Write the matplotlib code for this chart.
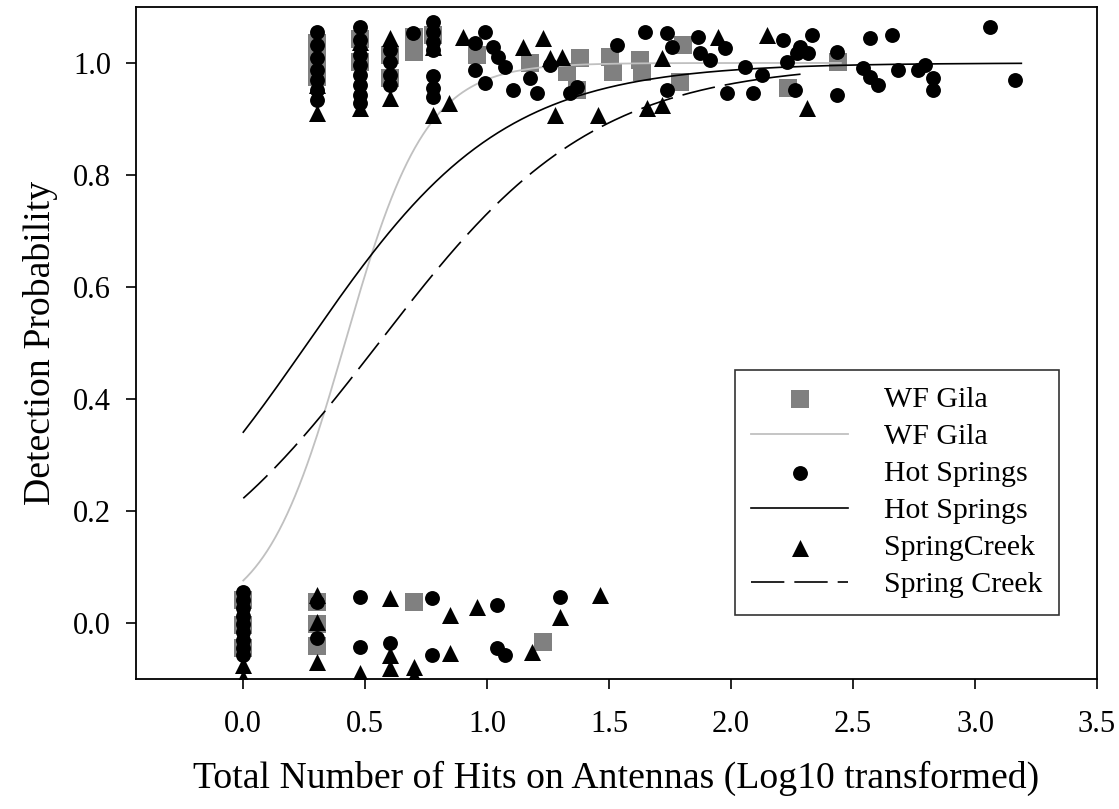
import numpy as np
import matplotlib
matplotlib.use("Agg")
import matplotlib.pyplot as plt

plt.rcParams['font.family'] = ['Liberation Serif', 'DejaVu Serif']

# ---------------- data ----------------
# WF Gila (squares)
gila_x = [0.0, 0.0, 0.0, 0.301, 0.301, 0.301, 0.699,
          0.301, 0.301, 0.301, 0.477, 0.477, 0.602, 0.602, 0.699, 0.699, 0.779,
          0.959, 1.176, 1.381, 1.328, 1.369, 1.504, 1.516, 1.627, 1.635, 1.803,
          1.791, 2.234, 2.439, 1.23]
gila_y = [0.041, -0.004, -0.045, 0.0375, -0.002, -0.041, 0.0375,
          1.036, 1.005, 0.975, 1.043, 1.002, 1.014, 0.973, 1.046, 1.02, 1.05,
          1.014, 1.0, 1.009, 0.984, 0.952, 1.011, 0.984, 1.005, 0.984, 1.032,
          0.966, 0.955, 1.002, -0.034]

# Hot Springs (circles)
hot_x = [0.0, 0.0, 0.0, 0.0, 0.0, 0.0, 0.0, 0.0, 0.0,
         0.301, 0.301, 0.477, 0.477, 0.602, 0.775, 0.775, 1.041, 1.041, 1.074, 1.30,
         0.301, 0.301, 0.301, 0.301, 0.301, 0.301, 0.301,
         0.477, 0.477, 0.477, 0.477, 0.477, 0.477, 0.477, 0.477,
         0.602, 0.602, 0.602, 0.602, 0.697,
         0.779, 0.779, 0.779, 0.779, 0.779, 0.779, 0.779,
         0.992, 0.951, 1.025, 1.045, 1.074, 0.951, 0.992,
         1.176, 1.107, 1.205, 1.258, 1.369, 1.340, 1.533, 1.648, 1.738, 1.758,
         1.865, 1.873, 1.914, 1.738,
         1.975, 2.213, 2.332, 2.283, 2.27, 2.316, 2.23, 2.057, 2.127, 1.984,
         2.09, 2.434, 2.262, 2.57, 2.66, 2.434, 2.541, 2.57, 2.602, 2.684,
         2.766, 2.795, 2.828, 2.828, 3.061, 3.164]
hot_y = [0.055, 0.041, 0.027, 0.0125, -0.002, -0.016, -0.030, -0.045, -0.057,
         0.0375, -0.027, 0.046, -0.043, -0.036, 0.045, -0.057, 0.032, -0.045, -0.057, 0.046,
         1.055, 1.032, 1.009, 0.9875, 0.970, 0.952, 0.934,
         1.064, 1.041, 1.014, 0.996, 0.979, 0.961, 0.943, 0.929,
         1.023, 1.002, 0.979, 0.961, 1.054,
         1.073, 1.055, 1.0375, 1.023, 0.977, 0.955, 0.939,
         1.055, 1.036, 1.029, 1.011, 0.993, 0.9875, 0.964,
         0.973, 0.952, 0.946, 0.996, 0.957, 0.946, 1.032, 1.055, 1.054, 1.029,
         1.046, 1.018, 1.005, 0.952,
         1.027, 1.041, 1.05, 1.029, 1.018, 1.018, 1.002, 0.993, 0.979, 0.946,
         0.946, 1.02, 0.952, 1.045, 1.05, 0.943, 0.991, 0.975, 0.961, 0.9875,
         0.9875, 0.996, 0.973, 0.952, 1.064, 0.97]

# Spring Creek (triangles)
spr_x = [0.0, 0.0, 0.301, 0.301, 0.301, 0.477, 0.602, 0.602, 0.602, 0.699, 0.699,
         0.848, 0.848, 0.959, 1.184, 1.30, 1.463,
         0.301, 0.301, 0.477, 0.477, 0.602, 0.602, 0.779, 0.779, 0.845, 0.90,
         1.148, 1.23, 1.258, 1.307, 1.279, 1.455, 1.717, 1.656, 1.717,
         1.947, 2.148, 2.311]
spr_y = [-0.075, -0.098, 0.05, 0.002, -0.07, -0.09, 0.045, -0.057, -0.08, -0.078, -0.095,
         0.014, -0.054, 0.029, -0.052, 0.011, 0.05,
         0.911, 0.961, 1.0375, 0.92, 1.045, 0.9375, 1.029, 0.907, 0.929, 1.046,
         1.029, 1.045, 1.009, 1.011, 0.907, 0.907, 1.009, 0.92, 0.925,
         1.046, 1.05, 0.92]

# Logistic regression fits: intercept, slope, x-range end
gila_fit = (-2.5, 6.0, 2.45)
hot_fit = (-0.66, 2.5, 3.19)
spr_fit = (-1.25, 2.25, 2.3)

x_ticks = [0.0, 0.5, 1.0, 1.5, 2.0, 2.5, 3.0, 3.5]
y_ticks = [0.0, 0.2, 0.4, 0.6, 0.8, 1.0]

# ---------------- plot ----------------
fig = plt.figure(figsize=(11.19, 8.09), dpi=100)
ax = fig.add_axes([0.1215, 0.1607, 0.8588, 0.8307])


def logistic_curve(fit):
    a, b, xend = fit
    xs = np.linspace(0.0, xend, 300)
    return xs, 1.0 / (1.0 + np.exp(-(a + b * xs)))


ax.scatter(gila_x, gila_y, marker='s', s=170, color='#808080', linewidths=0,
           zorder=2, label='WF Gila')
gx, gy = logistic_curve(gila_fit)
ax.plot(gx, gy, color='#c0c0c0', lw=1.3, zorder=3, label='WF Gila')
ax.scatter(hot_x, hot_y, marker='o', s=115, color='black', linewidths=0,
           zorder=4, label='Hot Springs')
hx, hy = logistic_curve(hot_fit)
ax.plot(hx, hy, color='black', lw=1.2, zorder=3, label='Hot Springs')
ax.scatter(spr_x, spr_y, marker='^', s=150, color='black', linewidths=0,
           zorder=4, label='SpringCreek')
sx, sy = logistic_curve(spr_fit)
ax.plot(sx, sy, color='black', lw=1.2, dashes=(20, 6), zorder=3,
        label='Spring Creek')

ax.set_xlim(-0.44, 3.5)
ax.set_ylim(-0.1, 1.1)
ax.set_xticks(x_ticks)
ax.set_yticks(y_ticks)
ax.set_xticklabels([f"{v:.1f}" for v in x_ticks])
ax.set_yticklabels([f"{v:.1f}" for v in y_ticks])
ax.tick_params(axis='both', direction='out', length=7, width=1.2,
               labelsize=22, colors='black')
ax.tick_params(axis='x', pad=15)
ax.tick_params(axis='y', pad=11)
for sp in ax.spines.values():
    sp.set_linewidth(1.3)

ax.set_xlabel('Total Number of Hits on Antennas (Log10 transformed)',
              fontsize=27.2, labelpad=16)
ax.set_ylabel('Detection Probability', fontsize=27.2, labelpad=11)

leg = ax.legend(loc='upper left', bbox_to_anchor=(0.623, 0.46), fontsize=21.5,
                frameon=True, fancybox=False, edgecolor='black',
                handlelength=3.25, handletextpad=1.2, labelspacing=0.34,
                borderpad=0.55, borderaxespad=0, scatterpoints=1)
leg.get_frame().set_linewidth(1.2)

fig.savefig('out.png', dpi=100)
